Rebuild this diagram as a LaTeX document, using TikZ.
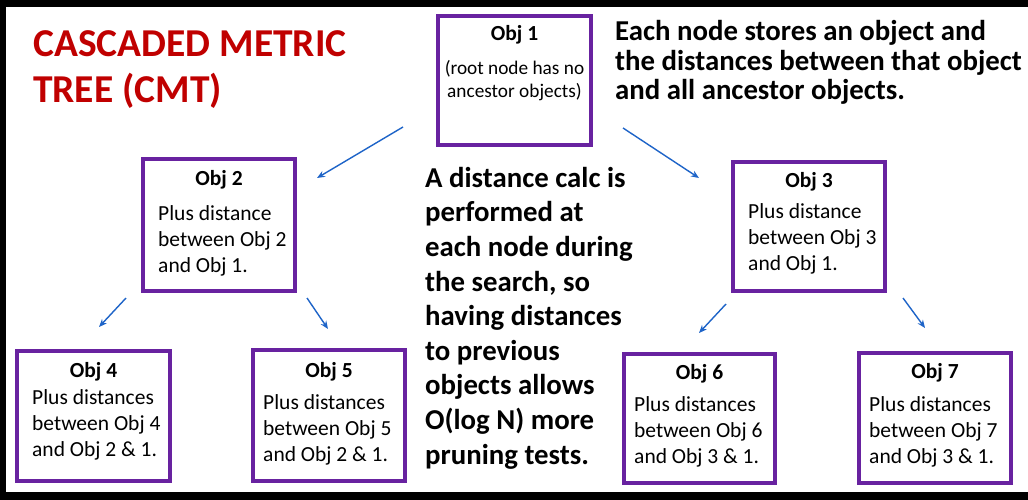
\documentclass[tikz,border=0pt]{standalone}
\usepackage{fontspec}
\setmainfont{Carlito}
\usetikzlibrary{arrows.meta}
\definecolor{objpurple}{RGB}{104,34,160}
\definecolor{titlered}{RGB}{192,0,0}
\definecolor{arrowblue}{RGB}{30,100,200}
\tikzset{
	objbox/.style={draw=objpurple, line width=3.8pt, inner sep=0pt},
	objhead/.style={anchor=base, inner sep=0pt, font=\fontsize{21.5}{26}\selectfont\bfseries},
	objtext/.style={anchor=base west, align=left, inner sep=0pt, font=\fontsize{21.5}{26}\selectfont},
	notetext/.style={anchor=base west, align=left, inner sep=0pt, font=\bfseries},
	treearrow/.style={draw=arrowblue, line width=1.4pt, -{Stealth[length=8pt,width=6.5pt]}}
}

\begin{document}
\begin{tikzpicture}[x=1pt, y=-1pt]
			%%%%% START %%%%%
			\useasboundingbox (0, 0) rectangle (1028, 500);
			
			\fill[black] (0, 0) rectangle (1028, 500);
			\fill[white] (6, 7) rectangle (1028, 492);
			
			% text blocks (base = last line)
			\node[notetext, text=titlered, font=\fontsize{39.5}{46}\selectfont\bfseries] (title) at (33, 103) {CASCADED METRIC\\TREE (CMT)};
			
			\node[notetext, font=\fontsize{28.8}{29.5}\selectfont\bfseries] (store) at (615, 100) {Each node stores an object and\\the distances between that object\\and all ancestor objects.};
			
			\node[notetext, font=\fontsize{28.8}{34.6}\selectfont\bfseries] (calc) at (425, 464) {A distance calc is\\performed at\\each node during\\the search, so\\having distances\\to previous\\objects allows\\O(log N) more\\pruning tests.};
			
			% boxes
			\node[objbox, minimum width=153.5pt, minimum height=129.5pt] (o1) at (514.5, 80.5) {};
			\node[objbox, minimum width=152.5pt, minimum height=131.5pt] (o2) at (219, 225) {};
			\node[objbox, minimum width=152.5pt, minimum height=129.5pt] (o3) at (809, 226.5) {};
			\node[objbox, minimum width=153.5pt, minimum height=130.5pt] (o4) at (93.5, 416) {};
			\node[objbox, minimum width=152.5pt, minimum height=131.5pt] (o5) at (329, 415.5) {};
			\node[objbox, minimum width=151.5pt, minimum height=129.5pt] (o6) at (699.5, 418.5) {};
			\node[objbox, minimum width=152.5pt, minimum height=130.5pt] (o7) at (935, 418) {};
			
			\node[objhead] (o1h) at (514.5, 41) {Obj 1};
			\node[objhead, font=\fontsize{19.3}{23}\selectfont] (o1t) at (514.5, 75) {(root node has no};
			\node[objhead, font=\fontsize{19.3}{23}\selectfont] (o1u) at (514.5, 98) {ancestor objects)};
			
			\node[objhead] (o2h) at (219, 185) {Obj 2};
			\node[objtext] (o2t) at (158, 272) {Plus distance\\between Obj 2\\and Obj 1.};
			
			\node[objhead] (o3h) at (809, 187) {Obj 3};
			\node[objtext] (o3t) at (748, 270) {Plus distance\\between Obj 3\\and Obj 1.};
			
			\node[objhead] (o4h) at (93.5, 377) {Obj 4};
			\node[objtext] (o4t) at (32, 456) {Plus distances\\between Obj 4\\and Obj 2 \& 1.};
			
			\node[objhead] (o5h) at (329, 377) {Obj 5};
			\node[objtext] (o5t) at (263, 461) {Plus distances\\between Obj 5\\and Obj 2 \& 1.};
			
			\node[objhead] (o6h) at (699.5, 379) {Obj 6};
			\node[objtext] (o6t) at (634, 463) {Plus distances\\between Obj 6\\and Obj 3 \& 1.};
			
			\node[objhead] (o7h) at (935, 378) {Obj 7};
			\node[objtext] (o7t) at (869, 463) {Plus distances\\between Obj 7\\and Obj 3 \& 1.};
			
			% arrows
			\coordinate (a12) at (403, 127);
			\coordinate (b12) at (317, 178);
			\coordinate (a13) at (623, 128);
			\coordinate (b13) at (699, 178);
			\coordinate (a24) at (126, 298);
			\coordinate (b24) at (99, 327);
			\coordinate (a25) at (307, 298);
			\coordinate (b25) at (328, 329);
			\coordinate (a36) at (726, 304);
			\coordinate (b36) at (699, 333);
			\coordinate (a37) at (903, 298);
			\coordinate (b37) at (925, 328);
			
			\draw[treearrow] (a12) -- (b12);
			\draw[treearrow] (a13) -- (b13);
			\draw[treearrow] (a24) -- (b24);
			\draw[treearrow] (a25) -- (b25);
			\draw[treearrow] (a36) -- (b36);
			\draw[treearrow] (a37) -- (b37);
			
			%%%%% END %%%%%
\end{tikzpicture}
\end{document}
